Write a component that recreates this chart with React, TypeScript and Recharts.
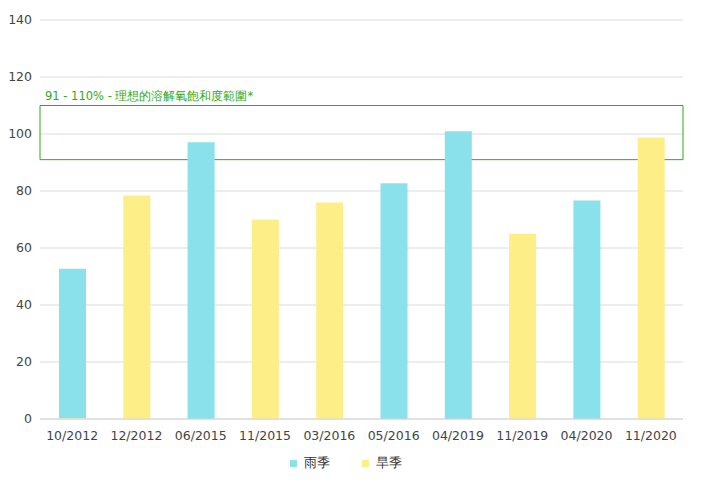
import { Bar, BarChart, CartesianGrid, Legend, ReferenceArea, XAxis, YAxis } from "recharts";

const dates = ["10/2012", "12/2012", "06/2015", "11/2015", "03/2016", "05/2016", "04/2019", "11/2019", "04/2020", "11/2020"];
const rainy = [52.4, null, 97.1, null, null, 82.7, 101, null, 76.7, null];
const dry = [0.3, 78.4, null, 70, 76, null, null, 65, null, 98.8];
const yTicks = [0, 20, 40, 60, 80, 100, 120, 140];
const rangeLow = 91;
const rangeHigh = 110;
const rangeLabel = "91 - 110% - 理想的溶解氧飽和度範圍*";

const data = dates.map((d, i) => ({ name: d, rainy: rainy[i], dry: dry[i] }));

const font = "'DejaVu Sans', sans-serif";

export default function App() {
  return (
    <div style={{ position: "absolute", left: 0, top: 0, fontFamily: font }}>
      <BarChart
        width={702}
        height={498}
        data={data}
        margin={{ top: 20, right: 19, left: 0, bottom: 31 }}
        barSize={27}
      >
        <CartesianGrid vertical={false} stroke="#dcdcdc" />
        <XAxis
          dataKey="name"
          stroke="#d6d6d6"
          tickLine={false}
          tick={{ fill: "#444", fontSize: 12.5, fontFamily: font }}
          tickMargin={6}
        />
        <YAxis
          width={40}
          domain={[0, 140]}
          ticks={yTicks}
          axisLine={false}
          tickLine={false}
          tick={{ fill: "#444", fontSize: 12.5, fontFamily: font }}
        />
        <ReferenceArea
          y1={rangeLow}
          y2={rangeHigh}
          fill="none"
          stroke="#33aa11"
          strokeWidth={1}
          fillOpacity={0}
          ifOverflow="visible"
          label={{
            value: rangeLabel,
            position: "insideTopLeft",
            offset: 0,
            dx: 5,
            dy: -14,
            fill: "#33aa11",
            fontSize: 11.5,
            fontFamily: font,
          }}
        />
        <Bar dataKey="dry" name="旱季" stackId="s" fill="#feee88" isAnimationActive={false} />
        <Bar dataKey="rainy" name="雨季" stackId="s" fill="#8ae1ec" isAnimationActive={false} />
        <Legend
          verticalAlign="bottom"
          iconType="square"
          iconSize={7}
          itemSorter={(item: any) => (item.dataKey === "rainy" ? 0 : 1)}
          wrapperStyle={{ fontSize: 13, fontFamily: font, paddingTop: 0, bottom: 26, left: 40, width: 643 }}
          formatter={(v) => <span style={{ color: "#333", marginLeft: 3, marginRight: 22 }}>{v}</span>}
        />
      </BarChart>
    </div>
  );
}
